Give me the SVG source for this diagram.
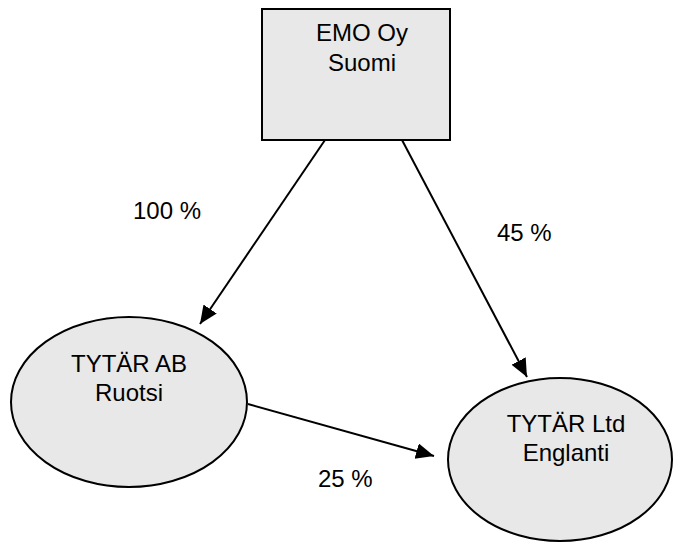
<svg xmlns="http://www.w3.org/2000/svg" width="674" height="542" viewBox="0 0 674 542">
<style>
.box{fill:#e8e8e8;stroke:#000;stroke-width:2}
.t{font-family:"Liberation Sans",Arial,sans-serif;font-size:24px;fill:#000}
.c{text-anchor:middle}
.ln{stroke:#000;stroke-width:2;fill:none;marker-end:url(#ah)}
</style>
<defs>
<marker id="ah" markerUnits="userSpaceOnUse" markerWidth="20" markerHeight="18" refX="18" refY="8" orient="auto">
<path d="M0,0 L18,8 L0,16 z" fill="#000"/>
</marker>
</defs>
<rect width="674" height="542" fill="#fff"/>
<g id="connectors">
<line class="ln" x1="325" y1="140" x2="200" y2="324"/>
<line class="ln" x1="402" y1="140" x2="527" y2="377"/>
<line class="ln" x1="248" y1="404" x2="434" y2="456"/>
</g>
<g id="emo">
<rect class="box" x="262" y="9" width="188" height="131"/>
<text class="t c" x="362" y="41">EMO Oy</text>
<text class="t c" x="362" y="71">Suomi</text>
</g>
<g id="tytar-ab">
<ellipse class="box" cx="129" cy="402" rx="118" ry="85"/>
<text class="t c" x="129" y="372">TYTÄR AB</text>
<text class="t c" x="129" y="401">Ruotsi</text>
</g>
<g id="tytar-ltd">
<ellipse class="box" cx="560" cy="459.5" rx="112" ry="81.5"/>
<text class="t c" x="566" y="432">TYTÄR Ltd</text>
<text class="t c" x="566" y="461">Englanti</text>
</g>
<g id="labels">
<text class="t" x="133" y="219">100 %</text>
<text class="t" x="497" y="241">45 %</text>
<text class="t" x="318" y="487">25 %</text>
</g>
</svg>
